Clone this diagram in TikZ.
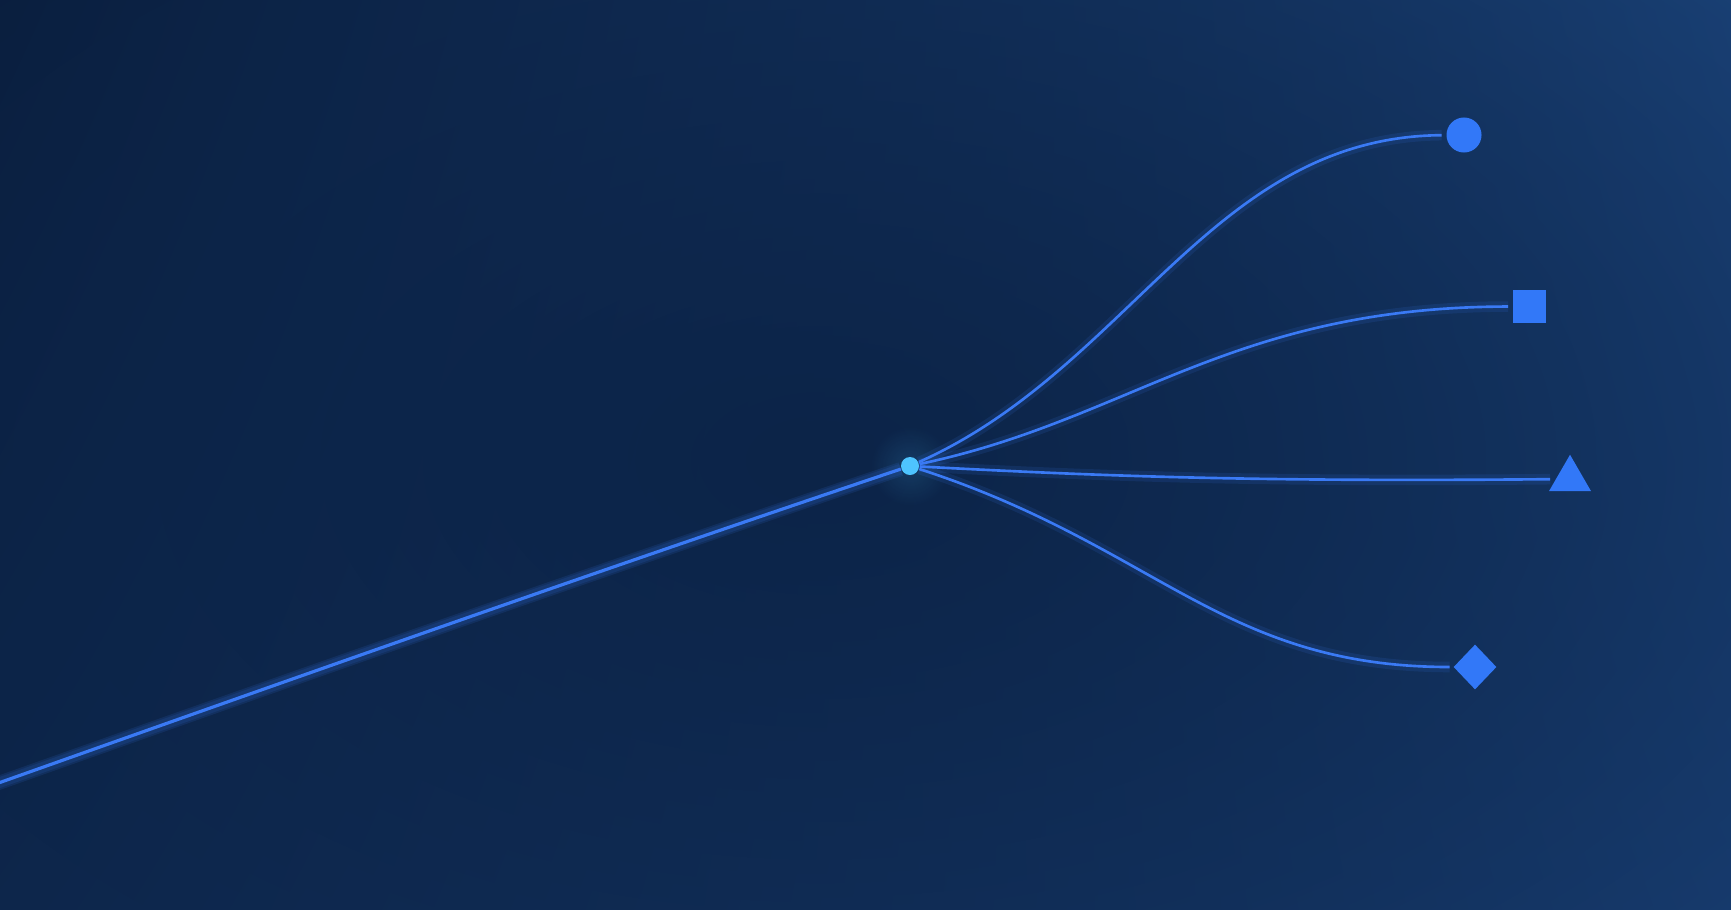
\documentclass[tikz,border=0pt]{standalone}
\usetikzlibrary{shapes.geometric,shadings,fadings}
\definecolor{bgtl}{RGB}{9,27,56}
\definecolor{bgtr}{RGB}{34,82,145}
\definecolor{bgbl}{RGB}{14,40,78}
\definecolor{bgbr}{RGB}{30,74,134}
\definecolor{bgcore}{RGB}{12,36,72}
\definecolor{linkblue}{RGB}{58,122,245}
\definecolor{markblue}{RGB}{50,120,248}
\definecolor{hubcyan}{RGB}{78,196,255}
\tikzfading[name=corefade, inner color=transparent!0, outer color=transparent!100]
\begin{document}
\begin{tikzpicture}[x=0.01cm, y=-0.01cm,
	branch/.style={draw=linkblue, line width=0.75pt, preaction={draw=linkblue, line width=3pt, opacity=.12}},
	marker/.style={fill=markblue, draw=none, inner sep=0pt, outer sep=1.4pt}]
	\useasboundingbox (0,0) rectangle (1731,909);
	\clip (0,0) rectangle (1731,909);
	\shade[upper left=bgtl, upper right=bgtr, lower left=bgbl, lower right=bgbr] (0,0) rectangle (1731,909);
	\fill[bgcore, path fading=corefade] (820,460) ellipse (20cm and 12cm);
	\node[circle, fill=hubcyan, minimum size=0.18cm, inner sep=0pt] (hub) at (910,466) {};
	\fill[hubcyan, opacity=.15, path fading=corefade] (hub) circle (0.4cm);
	\node[marker, circle, minimum size=0.35cm] (dot) at (1464,135) {};
	\node[marker, rectangle, minimum size=0.33cm] (box) at (1529.5,306.5) {};
	\node[marker, regular polygon, regular polygon sides=3, minimum size=0.485cm] (tri) at (1570,479) {};
	\node[marker, diamond, minimum width=0.45cm, minimum height=0.47cm, outer sep=0.8pt] (gem) at (1475,667) {};
	\coordinate (src) at (-10,786);
	\draw[branch, line width=0.9pt, preaction={draw=linkblue, line width=4pt, opacity=.12}] (src) .. controls (300,676) and (600,570) .. (hub);
	\draw[branch] (hub) .. controls (1130,368) and (1212,137) .. (dot);
	\draw[branch] (hub) .. controls (1130,420) and (1230,307) .. (box);
	\draw[branch] (hub) .. controls (1100,476) and (1250,482) .. (tri);
	\draw[branch] (hub) .. controls (1157,546) and (1222,667) .. (gem);
\end{tikzpicture}
\end{document}
